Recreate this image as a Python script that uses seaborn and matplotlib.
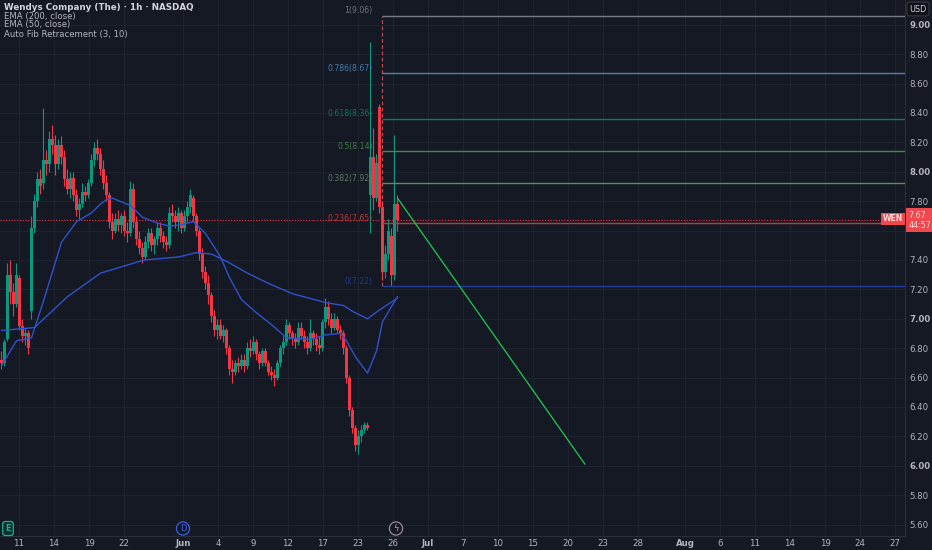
import matplotlib
matplotlib.use("Agg")
import matplotlib.pyplot as plt
import numpy as np
import seaborn as sns

# --- data (hourly bars, WEN) ---
opens = [6.72, 6.70, 6.86, 7.30, 7.18, 7.10, 7.28, 6.95, 6.88, 6.90,
         7.05, 7.62, 7.80, 7.95, 7.92, 8.08, 8.05, 8.22, 8.18, 8.05,
         8.18, 8.10, 7.95, 7.88, 7.96, 7.84, 7.74, 7.78, 7.86, 7.84,
         7.92, 8.08, 8.16, 8.12, 8.02, 7.92, 7.84, 7.66, 7.60, 7.68,
         7.64, 7.70, 7.60, 7.58, 7.88, 7.66, 7.54, 7.48, 7.42, 7.52,
         7.58, 7.50, 7.54, 7.62, 7.56, 7.52, 7.50, 7.72, 7.70, 7.66,
         7.72, 7.62, 7.70, 7.76, 7.82, 7.70, 7.60, 7.44, 7.32, 7.24,
         7.16, 7.02, 6.92, 6.96, 6.88, 6.92, 6.80, 6.66, 6.64, 6.70,
         6.68, 6.72, 6.68, 6.80, 6.78, 6.84, 6.76, 6.70, 6.78, 6.70,
         6.64, 6.62, 6.60, 6.70, 6.80, 6.84, 6.96, 6.90, 6.86, 6.84,
         6.94, 6.88, 6.84, 6.80, 6.90, 6.86, 6.82, 6.80, 6.98, 7.08,
         7.00, 6.94, 7.00, 6.92, 6.90, 6.80, 6.60, 6.38, 6.26, 6.14,
         6.20, 6.24, 6.28, 7.84, 8.10, 7.82, 8.44, 7.76, 7.32, 7.44,
         7.56, 7.30, 7.78]
highs = [6.78, 6.86, 7.38, 7.40, 7.24, 7.38, 7.30, 7.00, 6.94, 6.92,
         7.70, 7.85, 8.00, 8.02, 8.43, 8.15, 8.28, 8.32, 8.25, 8.22,
         8.24, 8.15, 8.02, 8.00, 8.00, 7.88, 7.82, 7.92, 7.90, 7.95,
         8.12, 8.20, 8.22, 8.16, 8.08, 7.98, 7.86, 7.72, 7.72, 7.74,
         7.72, 7.74, 7.66, 7.94, 7.92, 7.70, 7.60, 7.52, 7.56, 7.62,
         7.62, 7.56, 7.66, 7.66, 7.60, 7.56, 7.76, 7.78, 7.74, 7.76,
         7.74, 7.74, 7.80, 7.88, 7.84, 7.72, 7.62, 7.48, 7.36, 7.30,
         7.18, 7.06, 7.00, 7.00, 6.96, 6.94, 6.82, 6.72, 6.72, 6.74,
         6.76, 6.76, 6.84, 6.86, 6.88, 6.86, 6.78, 6.80, 6.80, 6.72,
         6.68, 6.66, 6.72, 6.82, 6.88, 7.00, 6.98, 6.92, 6.90, 6.98,
         6.98, 6.92, 6.88, 7.00, 6.92, 6.90, 6.88, 7.00, 7.14, 7.12,
         7.04, 7.04, 7.02, 6.96, 6.92, 6.82, 6.62, 6.40, 6.28, 6.24,
         6.28, 6.30, 6.30, 8.88, 8.30, 8.12, 8.46, 7.80, 7.50, 7.68,
         7.62, 8.25, 7.84]
lows = [6.66, 6.68, 6.85, 7.10, 7.02, 7.08, 6.92, 6.84, 6.82, 6.76,
        7.00, 7.58, 7.76, 7.85, 7.88, 7.98, 8.00, 8.12, 7.98, 8.02,
        8.05, 7.90, 7.85, 7.82, 7.80, 7.70, 7.68, 7.76, 7.80, 7.82,
        7.90, 8.04, 8.08, 7.98, 7.88, 7.80, 7.62, 7.54, 7.58, 7.60,
        7.58, 7.56, 7.52, 7.56, 7.62, 7.50, 7.44, 7.38, 7.40, 7.48,
        7.46, 7.44, 7.50, 7.52, 7.48, 7.46, 7.48, 7.66, 7.62, 7.60,
        7.58, 7.60, 7.66, 7.72, 7.66, 7.56, 7.40, 7.28, 7.20, 7.10,
        6.98, 6.88, 6.86, 6.86, 6.84, 6.76, 6.62, 6.56, 6.62, 6.64,
        6.66, 6.64, 6.66, 6.74, 6.76, 6.72, 6.66, 6.68, 6.68, 6.62,
        6.58, 6.54, 6.58, 6.68, 6.76, 6.82, 6.86, 6.82, 6.80, 6.82,
        6.86, 6.80, 6.76, 6.78, 6.82, 6.78, 6.76, 6.78, 6.94, 6.96,
        6.90, 6.92, 6.90, 6.86, 6.76, 6.56, 6.34, 6.22, 6.10, 6.08,
        6.16, 6.22, 6.24, 7.58, 7.74, 7.80, 7.72, 7.26, 7.28, 7.40,
        7.22, 7.26, 7.60]
closes = [6.70, 6.84, 7.30, 7.18, 7.10, 7.30, 6.95, 6.88, 6.90, 6.80,
          7.62, 7.80, 7.95, 7.90, 8.08, 8.05, 8.22, 8.18, 8.05, 8.18,
          8.10, 7.95, 7.88, 7.96, 7.84, 7.74, 7.78, 7.86, 7.84, 7.92,
          8.08, 8.16, 8.12, 8.02, 7.92, 7.84, 7.66, 7.60, 7.68, 7.64,
          7.70, 7.60, 7.58, 7.88, 7.66, 7.54, 7.48, 7.42, 7.52, 7.58,
          7.50, 7.54, 7.62, 7.56, 7.52, 7.50, 7.72, 7.70, 7.66, 7.72,
          7.62, 7.70, 7.76, 7.84, 7.70, 7.60, 7.44, 7.32, 7.24, 7.16,
          7.02, 6.92, 6.96, 6.88, 6.92, 6.80, 6.66, 6.64, 6.70, 6.68,
          6.72, 6.68, 6.80, 6.78, 6.84, 6.76, 6.70, 6.78, 6.70, 6.64,
          6.62, 6.60, 6.70, 6.80, 6.84, 6.96, 6.90, 6.86, 6.84, 6.94,
          6.88, 6.84, 6.80, 6.90, 6.86, 6.82, 6.80, 6.98, 7.08, 7.00,
          6.94, 7.00, 6.92, 6.90, 6.80, 6.60, 6.38, 6.26, 6.14, 6.20,
          6.24, 6.28, 6.26, 8.10, 7.82, 8.06, 7.76, 7.32, 7.44, 7.60,
          7.30, 7.78, 7.67]

# EMA readings (bar number, value)
ema200_bar = [0, 11, 22, 33, 46, 48, 59, 65, 70, 76, 82, 89, 97, 108, 114, 117, 122, 126, 132]
ema200_val = [6.92, 6.94, 7.15, 7.31, 7.39, 7.40, 7.42, 7.45, 7.44, 7.38, 7.31, 7.24,
              7.17, 7.11, 7.09, 7.05, 7.00, 7.06, 7.14]
ema50_bar = [0, 5, 10, 14, 20, 25, 30, 33, 35, 37, 43, 47, 52, 56, 60, 64, 68, 73, 76,
             80, 85, 90, 95, 103, 108, 113, 115, 118, 122, 125, 127, 132]
ema50_val = [6.68, 6.85, 6.87, 7.12, 7.52, 7.66, 7.72, 7.78, 7.81, 7.82, 7.77, 7.69,
             7.65, 7.63, 7.64, 7.66, 7.58, 7.42, 7.28, 7.13, 7.04, 6.96, 6.87, 6.86,
             6.89, 6.90, 6.85, 6.74, 6.63, 6.78, 6.98, 7.15]

# auto fib retracement
fib_levels = ["1", "0.786", "0.618", "0.5", "0.382", "0.236", "0"]
fib_prices = [9.06, 8.67, 8.36, 8.14, 7.92, 7.65, 7.22]
fib_colors = ["#787b86", "#4f82b8", "#0b7a68", "#3f8a45", "#62876a", "#c0393f", "#1f3d99"]

# projected path drawn on the chart
proj_bar = [132, 194.5]
proj_val = [7.82, 6.01]

last_price = 7.67
countdown = "44:57"

date_labels = ["11", "14", "19", "22", "Jun", "4", "9", "12", "17", "23", "26", "Jul",
               "7", "10", "15", "20", "23", "28", "Aug", "6", "11", "14", "19", "24", "27"]
date_px = [19, 54, 89, 124, 183, 218, 253, 288, 323, 358, 393, 428, 463, 498, 533,
           568, 603, 638, 685, 720, 755, 790, 825, 860, 895]

# --- styling ---
bg = "#151924"
grid = "#1f2331"
txt = "#b2b5be"
up = "#089981"
down = "#f23645"

sns.set_style("dark", {"axes.facecolor": bg, "figure.facecolor": bg})
plt.rcParams["font.family"] = ["DejaVu Sans"]

fig = plt.figure(figsize=(9.32, 5.5), dpi=100, facecolor=bg)
ax = fig.add_axes([0, 14 / 550, 905 / 932, 536 / 550])
ax.set_facecolor(bg)

px_per_bar = 3.0
to_bar = lambda px: (px - 1.5) / px_per_bar
ax.set_xlim(to_bar(0), to_bar(905))
ax.set_ylim(5.522, 9.168)

# grid
yt = np.round(np.arange(5.6, 9.01, 0.2), 2)
for y in yt:
    ax.axhline(y, color=grid, lw=0.8, zorder=0)
for p in date_px:
    ax.axvline(to_bar(p), color=grid, lw=0.8, zorder=0)

# candles
n = len(closes)
x = np.arange(n)
o = np.array(opens); h = np.array(highs); l = np.array(lows); c = np.array(closes)
cols = np.where(c >= o, up, down)
ax.vlines(x, l, h, colors=cols, lw=0.8, zorder=3)
body = np.maximum(np.abs(c - o), 0.008)
ax.bar(x, body, bottom=np.minimum(o, c), width=0.7, color=cols, lw=0, zorder=4)

# EMAs
sns.lineplot(x=ema200_bar, y=ema200_val, ax=ax, color="#2f52cc", lw=1.0, zorder=5)
sns.lineplot(x=ema50_bar, y=ema50_val, ax=ax, color="#2f52cc", lw=1.0, zorder=5)

# current price line
ax.axhline(last_price, color=down, lw=0.8, ls=(0, (1, 1.5)), zorder=2)

# fib retracement
fib_start = to_bar(381.7)
ax.plot([fib_start, fib_start], [fib_prices[-1], fib_prices[0]], color="#d9534f",
        lw=0.9, ls=(0, (3, 2)), alpha=0.85, zorder=6)
for lev, pr, col in zip(fib_levels, fib_prices, fib_colors):
    ax.hlines(pr, fib_start, to_bar(905), colors=col, lw=1.0, zorder=6)
    ax.annotate(f"{lev}({pr:.2f})", xy=(fib_start, pr), xytext=(-6.5, 3.6),
                textcoords="offset points", ha="right", va="center",
                fontsize=5.6, color=col, alpha=0.9, zorder=7)

# projection line
sns.lineplot(x=proj_bar, y=proj_val, ax=ax, color="#1fc955", lw=0.9, zorder=6)

# axes cosmetics
ax.set_xlabel("")
ax.set_ylabel("")
ax.yaxis.tick_right()
ax.set_yticks(yt)
ax.set_yticklabels([f"{v:.2f}" for v in yt])
for lab, v in zip(ax.get_yticklabels(), yt):
    lab.set_fontweight("bold" if abs(v - round(v)) < 1e-6 else "normal")
    if abs(v - 7.6) < 1e-6:
        lab.set_alpha(0.0)  # hidden behind the live price tag, as on the chart
ax.tick_params(axis="y", length=0, pad=3, labelsize=6.2, labelcolor=txt)
ax.set_xticks([to_bar(p) for p in date_px])
ax.set_xticklabels(date_labels)
for lab in ax.get_xticklabels():
    if lab.get_text() in ("Jun", "Jul", "Aug"):
        lab.set_fontweight("bold")
ax.tick_params(axis="x", length=0, pad=2.5, labelsize=6.2, labelcolor=txt)
for s in ["top", "left"]:
    ax.spines[s].set_visible(False)
ax.spines["right"].set_color("#2a2e39")
ax.spines["bottom"].set_color("#2a2e39")

# event icons along the time axis
tr = ax.get_xaxis_transform()
ax.text(to_bar(8), 0.014, "E", transform=tr, ha="center", va="center", fontsize=6,
        color="#22ab94", fontweight="bold",
        bbox=dict(boxstyle="round,pad=0.3", fc="#10302c", ec="#22ab94", lw=0.9), zorder=8)
ax.text(to_bar(183), 0.014, "D", transform=tr, ha="center", va="center", fontsize=6,
        color="#3b5fe0",
        bbox=dict(boxstyle="circle,pad=0.25", fc=bg, ec="#3b5fe0", lw=0.9), zorder=8)
ax.text(to_bar(396), 0.014, "ϟ", transform=tr, ha="center", va="center", fontsize=6,
        color="#d0a0b8",
        bbox=dict(boxstyle="circle,pad=0.25", fc=bg, ec="#9a8a96", lw=0.9), zorder=8)

# price tag + symbol tag
ytr = ax.get_yaxis_transform()
ax.text(1.004, last_price, f"{last_price:.2f}\n{countdown}", transform=ytr, ha="left",
        va="center", fontsize=5.8, color="#ffd9d9", linespacing=1.15,
        bbox=dict(boxstyle="square,pad=0.3", fc="#f0484e", ec="none"), zorder=9,
        clip_on=False)
ax.text(0.998, last_price + 0.01, "WEN", transform=ytr, ha="right", va="center",
        fontsize=5.6, color="#ffd9d9", fontweight="bold",
        bbox=dict(boxstyle="square,pad=0.2", fc="#f0484e", ec="none"), zorder=9)

# legend / header text
fig.text(4 / 932, 1 - 7 / 550, "Wendys Company (The) · 1h · NASDAQ", fontsize=6.3,
         color="#d1d4dc", fontweight="bold", va="center", ha="left")
for i, s in enumerate(["EMA (200, close)", "EMA (50, close)", "Auto Fib Retracement (3, 10)"]):
    fig.text(4 / 932, 1 - (16 + 9 * i) / 550, s, fontsize=6.1, color=txt,
             va="center", ha="left")

fig.text(918 / 932, 1 - 9 / 550, "USD", fontsize=5.8, color="#d1d4dc", ha="center",
         va="center", bbox=dict(boxstyle="round,pad=0.3", fc="#0e1118", ec="#434651", lw=0.6))

fig.savefig("out.png", dpi=100, facecolor=bg)
